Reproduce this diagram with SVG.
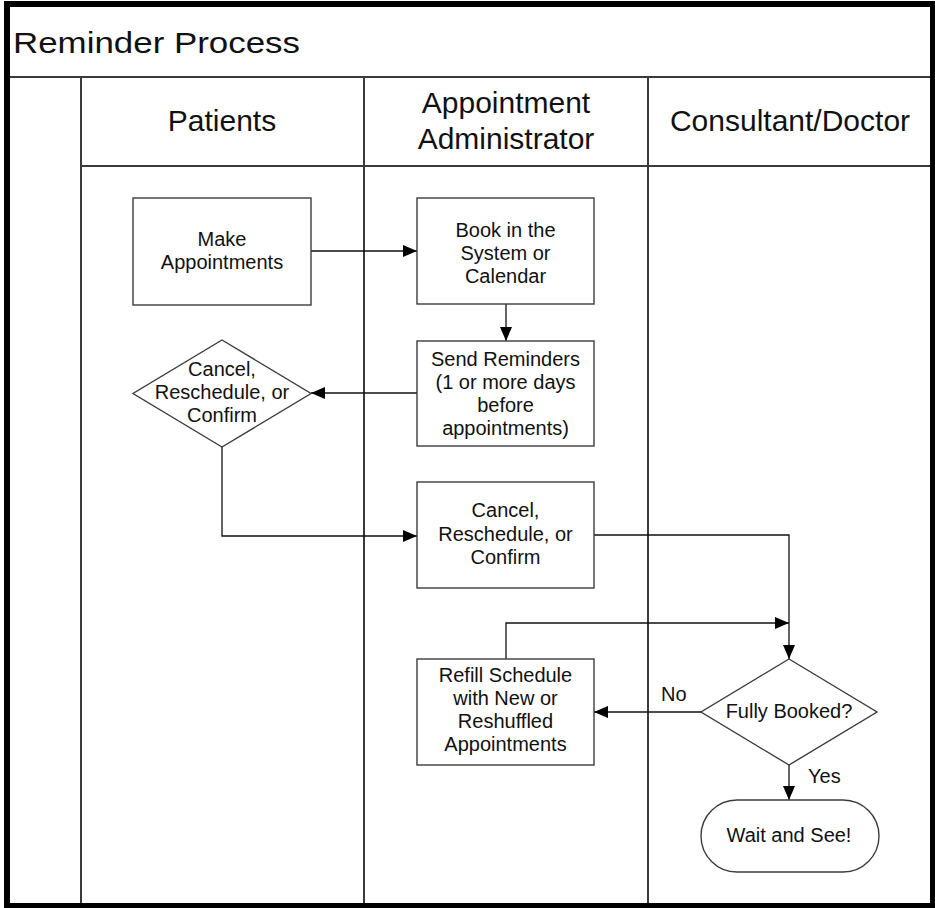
<svg xmlns="http://www.w3.org/2000/svg" width="935" height="908" viewBox="0 0 935 908">
<style>
.t{font-family:"Liberation Sans",Arial,sans-serif;fill:#111;}
.b{font-size:20px;text-anchor:middle;}
.h{font-size:30px;text-anchor:middle;}
.lane{stroke:#3a3a3a;stroke-width:2;fill:none;}
.shape{fill:#fff;stroke:#3c3c3c;stroke-width:1.4;}
.c{fill:none;stroke:#111;stroke-width:1.3;}
</style>
<defs>
<marker id="arr" viewBox="0 0 14 12" refX="14" refY="6" markerWidth="14" markerHeight="12" markerUnits="userSpaceOnUse" orient="auto">
<path d="M0,0 L14,6 L0,12 Z" fill="#000"/>
</marker>
</defs>
<rect x="0" y="0" width="935" height="908" fill="#fff"/>
<g id="pool">
<line class="lane" x1="7" y1="77" x2="933" y2="77" stroke-width="2.5"/>
<line class="lane" x1="81" y1="166" x2="933" y2="166"/>
<line class="lane" x1="81" y1="78" x2="81" y2="906"/>
<line class="lane" x1="364" y1="78" x2="364" y2="906"/>
<line class="lane" x1="648" y1="78" x2="648" y2="906"/>
<rect x="7" y="4" width="926" height="902" fill="none" stroke="#000" stroke-width="6"/>
<text class="t" x="13" y="53" font-size="30" textLength="287" lengthAdjust="spacingAndGlyphs">Reminder Process</text>
</g>
<g id="lane-patients"><text class="t h" x="222" y="131">Patients</text></g>
<g id="lane-admin"><text class="t h" x="506" y="113">Appointment</text><text class="t h" x="506" y="149">Administrator</text></g>
<g id="lane-doctor"><text class="t h" x="790" y="131">Consultant/Doctor</text></g>

<g id="connectors">
<polyline class="c" points="311,251 417,251" marker-end="url(#arr)"/>
<polyline class="c" points="506,304 506,341" marker-end="url(#arr)"/>
<polyline class="c" points="417,393 311,393" marker-end="url(#arr)"/>
<polyline class="c" points="222,447 222,536 417,536" marker-end="url(#arr)"/>
<polyline class="c" points="594,535 789,535 789,659" marker-end="url(#arr)"/>
<polyline class="c" points="506,659 506,623 789,623" marker-end="url(#arr)"/>
<polyline class="c" points="701,712 594,712" marker-end="url(#arr)"/>
<polyline class="c" points="789,765 789,800" marker-end="url(#arr)"/>
<text class="t" x="661" y="701" font-size="20">No</text>
<text class="t" x="808" y="783" font-size="20">Yes</text>
</g>

<g id="make-appointments">
<rect class="shape" x="133" y="198" width="178" height="107"/>
<text class="t b" x="222" y="246">Make</text>
<text class="t b" x="222" y="269">Appointments</text>
</g>
<g id="book-system">
<rect class="shape" x="417" y="198" width="177" height="106"/>
<text class="t b" x="505.5" y="237">Book in the</text>
<text class="t b" x="505.5" y="260">System or</text>
<text class="t b" x="505.5" y="283">Calendar</text>
</g>
<g id="send-reminders">
<rect class="shape" x="417" y="341" width="177" height="105"/>
<text class="t b" x="505.5" y="366">Send Reminders</text>
<text class="t b" x="505.5" y="389">(1 or more days</text>
<text class="t b" x="505.5" y="412">before</text>
<text class="t b" x="505.5" y="435">appointments)</text>
</g>
<g id="patient-decision">
<polygon class="shape" points="222,340 311,393.5 222,447 133,393.5"/>
<text class="t b" x="222" y="376">Cancel,</text>
<text class="t b" x="222" y="399">Reschedule, or</text>
<text class="t b" x="222" y="422">Confirm</text>
</g>
<g id="admin-cancel">
<rect class="shape" x="417" y="482" width="177" height="106"/>
<text class="t b" x="505.5" y="517">Cancel,</text>
<text class="t b" x="505.5" y="540.5">Reschedule, or</text>
<text class="t b" x="505.5" y="564">Confirm</text>
</g>
<g id="refill-schedule">
<rect class="shape" x="417" y="659" width="177" height="106"/>
<text class="t b" x="505.5" y="682">Refill Schedule</text>
<text class="t b" x="505.5" y="705">with New or</text>
<text class="t b" x="505.5" y="728">Reshuffled</text>
<text class="t b" x="505.5" y="751">Appointments</text>
</g>
<g id="fully-booked">
<polygon class="shape" points="789,659 877,712 789,765 701,712"/>
<text class="t b" x="789" y="718">Fully Booked?</text>
</g>
<g id="wait-and-see">
<rect class="shape" x="701" y="800" width="178" height="72" rx="36" ry="36"/>
<text class="t b" x="789" y="842">Wait and See!</text>
</g>
</svg>
